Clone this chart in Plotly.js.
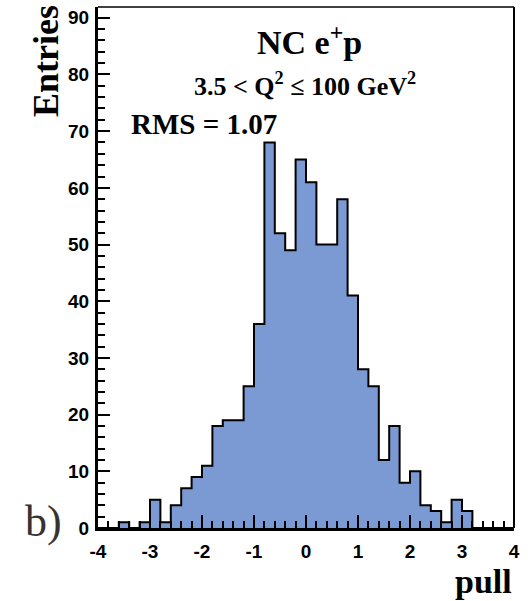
<!DOCTYPE html>
<html>
<head>
<meta charset="utf-8">
<script src="https://cdn.plot.ly/plotly-3.0.1.min.js"></script>
<style>html,body{margin:0;padding:0;background:#fff;}#chart{width:531px;height:601px;}</style>
</head>
<body>
<div id="chart"></div>
<script>
// Histogram of pulls: bins of width 0.2 from -4 to 4
const binStart = -4;
const binWidth = 0.2;
const counts = [0, 0, 1, 0, 1, 5, 1, 4, 7, 9,
                11, 18, 19, 19, 25, 36, 68, 52, 49, 65,
                61, 50, 50, 58, 41, 28, 25, 12, 18, 8,
                10, 4, 3, 1, 5, 3, 0, 0, 0, 0];
const xTickVals = [-4, -3, -2, -1, 0, 1, 2, 3, 4];
const yTickVals = [0, 10, 20, 30, 40, 50, 60, 70, 80, 90];
const titleText = 'NC e<sup>+</sup>p';
const rangeText = '3.5 &lt; Q<sup>2</sup> ≤ 100 GeV<sup>2</sup>';
const rmsText = 'RMS = 1.07';

const edges = counts.map((c, i) => binStart + i * binWidth);
edges.push(binStart + counts.length * binWidth);
const stepY = counts.concat([counts[counts.length - 1]]);

const trace = {
  type: 'scatter', mode: 'lines',
  x: edges, y: stepY,
  line: {shape: 'hv', color: '#000', width: 2},
  fill: 'tozeroy', fillcolor: 'rgb(123,154,211)',
  hoverinfo: 'skip', showlegend: false
};

const tickFont = {family: 'Liberation Sans, Arial, sans-serif', size: 19, color: '#000', weight: 700};
const serifB = {family: 'Liberation Serif, Times New Roman, serif', color: '#000', weight: 700};

const L = 98, R = 17, T = 7, B = 73, W = 531, H = 601;
const pw = W - L - R, ph = H - T - B;
const px = v => (v - L) / pw;
const py = v => (H - B - v) / ph;

const layout = {
  width: W, height: H,
  margin: {l: L, r: R, t: T, b: B, pad: 0},
  paper_bgcolor: '#fff', plot_bgcolor: '#fff',
  showlegend: false,
  xaxis: {
    range: [-4, 4], tickvals: xTickVals, ticktext: xTickVals.map(String),
    ticks: 'inside', ticklen: 13, tickwidth: 2, tickcolor: '#000',
    minor: {dtick: 0.2, tick0: -4, ticks: 'inside', ticklen: 7, tickwidth: 2, tickcolor: '#000', showgrid: false},
    showline: true, linewidth: 3, linecolor: '#000',
    showgrid: false, zeroline: false, tickfont: tickFont, ticklabelstandoff: 4
  },
  yaxis: {
    range: [0, 91.9], tickvals: yTickVals, ticktext: yTickVals.map(String),
    ticks: 'inside', ticklen: 12, tickwidth: 2, tickcolor: '#000',
    minor: {dtick: 2, tick0: 0, ticks: 'inside', ticklen: 7, tickwidth: 2, tickcolor: '#000', showgrid: false},
    showline: true, linewidth: 3, linecolor: '#000',
    showgrid: false, zeroline: false, tickfont: tickFont, ticklabelstandoff: 2
  },
  shapes: [
    {type: 'line', xref: 'paper', yref: 'paper', x0: 0, x1: 1, y0: 1, y1: 1, line: {color: '#000', width: 1.5}},
    {type: 'line', xref: 'paper', yref: 'paper', x0: 1, x1: 1, y0: 0, y1: 1, line: {color: '#000', width: 2}}
  ],
  annotations: [
    {text: titleText, xref: 'paper', yref: 'paper', x: px(309), y: py(40), xanchor: 'center', yanchor: 'middle', showarrow: false, font: Object.assign({size: 34}, serifB)},
    {text: rangeText, xref: 'paper', yref: 'paper', x: px(305), y: py(84), xanchor: 'center', yanchor: 'middle', showarrow: false, font: Object.assign({size: 26}, serifB)},
    {text: rmsText, xref: 'paper', yref: 'paper', x: px(129), y: py(124), xanchor: 'left', yanchor: 'middle', showarrow: false, font: Object.assign({size: 29}, serifB)},
    {text: 'Entries', xref: 'paper', yref: 'paper', x: px(46), y: py(61), xanchor: 'center', yanchor: 'middle', textangle: -90, showarrow: false, font: Object.assign({size: 36}, serifB)},
    {text: 'pull', xref: 'paper', yref: 'paper', x: px(514), y: py(581), xanchor: 'right', yanchor: 'middle', showarrow: false, font: Object.assign({size: 34}, serifB)},
    {text: 'b)', xref: 'paper', yref: 'paper', x: px(44), y: py(521), xanchor: 'center', yanchor: 'middle', showarrow: false, font: {family: 'Liberation Serif, Times New Roman, serif', size: 44, color: '#333'}}
  ]
};

Plotly.newPlot('chart', [trace], layout, {staticPlot: true, displayModeBar: false});
</script>
</body>
</html>
